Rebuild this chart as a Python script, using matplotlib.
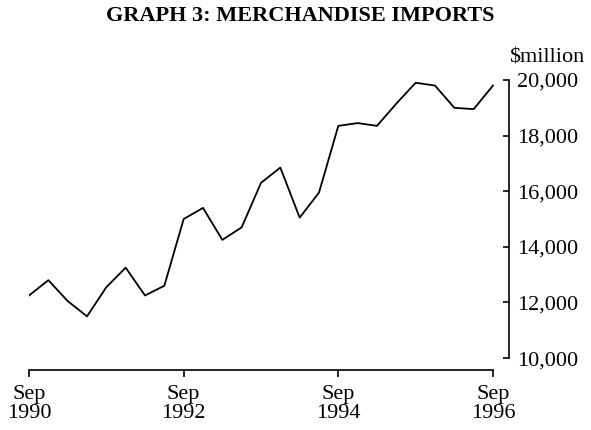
import matplotlib
matplotlib.use('Agg')
import matplotlib.pyplot as plt
import numpy as np

# quarterly merchandise imports, Sep 1990 .. Sep 1996 ($million)
quarters = np.arange(25)
imports = [12250, 12800, 12050, 11500, 12550, 13250, 12250, 12600,
           15000, 15400, 14250, 14700, 16300, 16850, 15050, 15950,
           18350, 18450, 18350, 19150, 19900, 19800, 19000, 18950, 19800]
tick_pos = [0, 8, 16, 24]
tick_labels = ["Sep\n1990", "Sep\n1992", "Sep\n1994", "Sep\n1996"]
y_ticks = [10000, 12000, 14000, 16000, 18000, 20000]

plt.rcParams['font.family'] = ['Liberation Serif', 'DejaVu Serif']

fig = plt.figure(figsize=(5.91, 4.30), dpi=100)
ax = fig.add_axes([0.0491, 0.1395, 0.8122, 0.6745])

ax.plot(quarters, imports, color='black', linewidth=1.3)

ax.set_xlim(0, 24.83)
ax.set_ylim(9570, 20000)

for s in ['top', 'left']:
    ax.spines[s].set_visible(False)
ax.spines['right'].set_bounds(10000, 20000)
ax.spines['bottom'].set_bounds(0, 24)
ax.spines['right'].set_linewidth(1.2)
ax.spines['bottom'].set_linewidth(1.2)

ax.yaxis.tick_right()
ax.set_yticks(y_ticks)
ax.set_yticklabels(["{:,}".format(v) for v in y_ticks], fontsize=16)
ax.tick_params(axis='y', direction='in', length=4, width=1.2, pad=6)

ax.set_xticks(tick_pos)
ax.set_xticklabels(tick_labels, fontsize=16, linespacing=0.95)
ax.tick_params(axis='x', direction='out', length=5, width=1.2, pad=6)

fig.text(0.508, 0.962, "GRAPH 3: MERCHANDISE IMPORTS", ha='center', va='center',
         fontsize=16, fontweight='bold')
fig.text(0.925, 0.866, "$million", ha='center', va='center', fontsize=16)

fig.savefig('out.png', dpi=100)
